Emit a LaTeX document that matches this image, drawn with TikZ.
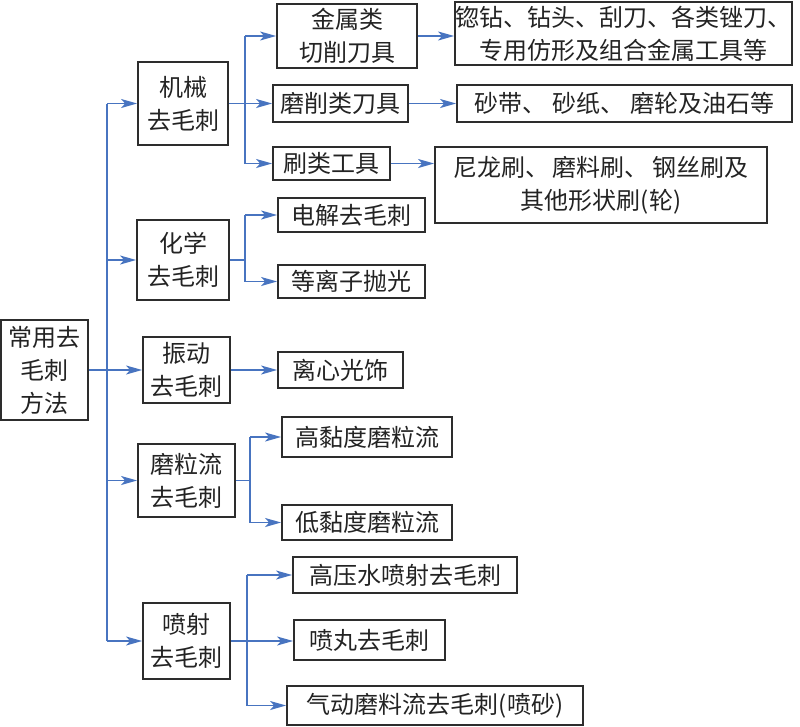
\documentclass[tikz,border=0pt]{standalone}
\usepackage{fontspec}
\setmainfont{Noto Sans CJK SC}
\usetikzlibrary{arrows.meta}
\definecolor{arrblue}{RGB}{72,116,192}
\definecolor{boxgray}{RGB}{45,45,45}
\definecolor{txt}{RGB}{35,35,35}
\tikzset{
  bx/.style={draw=boxgray, line width=1.8pt, inner sep=0pt, align=center, text=txt,
    font=\fontsize{24}{33}\selectfont},
  arr/.style={draw=arrblue, line width=1.5pt, -{Stealth[length=16pt,width=9pt,inset=4pt]}},
  ln/.style={draw=arrblue, line width=1.5pt}
}
\newcommand{\boxat}[6]{%
  \node[bx, minimum width={#4-#2}, minimum height={#5-#3}] (#1) at ({(#2+#4)/2},{(#3+#5)/2}) {#6};}
\begin{document}
\begin{tikzpicture}[x=1pt,y=-1pt]
\useasboundingbox (0,0) rectangle (800,726);
\boxat{root}{1}{320}{88}{420}{常用去\\毛刺\\方法}
\boxat{m1}{138}{62}{228}{145}{机械\\去毛刺}
\boxat{m2}{137}{220}{229}{300}{化学\\去毛刺}
\boxat{m3}{143}{337}{230}{403}{振动\\去毛刺}
\boxat{m4}{138}{444}{235}{517}{磨粒流\\去毛刺}
\boxat{m5}{143}{603}{230}{679}{喷射\\去毛刺}
\boxat{a1}{277}{4}{417}{68}{金属类\\切削刀具}
\boxat{a2}{273}{85}{408}{122}{磨削类刀具}
\boxat{a3}{273}{147}{390}{180}{刷类工具}
\boxat{l1}{455}{2}{792}{65}{锪钻、钻头、刮刀、各类锉刀、\\专用仿形及组合金属工具等}
\boxat{l2}{457}{85}{792}{122}{砂带、\hspace{6pt}砂纸、\hspace{6pt}磨轮及油石等}
\boxat{l3}{435}{147}{767}{223}{尼龙刷、\hspace{4pt}磨料刷、\hspace{4pt}钢丝刷及\\其他形状刷(轮)}
\boxat{b1}{278}{198}{425}{232}{电解去毛刺}
\boxat{b2}{278}{265}{425}{298}{等离子抛光}
\boxat{c1}{278}{352}{403}{388}{离心光饰}
\boxat{d1}{282}{417}{452}{457}{高黏度磨粒流}
\boxat{d2}{282}{505}{452}{540}{低黏度磨粒流}
\boxat{e1}{293}{557}{517}{593}{高压水喷射去毛刺}
\boxat{e2}{294}{620}{445}{660}{喷丸去毛刺}
\boxat{e3}{287}{686}{583}{725}{气动磨料流去毛刺(喷砂)}
% trunk
\coordinate (t) at (107,0);
\draw[ln] (t |- m1.west) -- (t |- m5.west);
\draw[arr] (root.east) -- (m3.west);
\draw[arr] (t |- m1.west) -- (m1.west);
\draw[arr] (t |- m2.west) -- (m2.west);
\draw[arr] (t |- m4.west) -- (m4.west);
\draw[arr] (t |- m5.west) -- (m5.west);
% m1 branch
\coordinate (v1) at (245,0);
\draw[ln] (v1 |- a1.west) -- (v1 |- a3.west);
\draw[arr] (m1.east) -- (a2.west |- m1.east);
\draw[arr] (v1 |- a1.west) -- (a1.west);
\draw[arr] (v1 |- a3.west) -- (a3.west);
\draw[arr] (a1.east) -- (l1.west |- a1.east);
\draw[arr] (a2.east) -- (l2.west |- a2.east);
\draw[arr] (a3.east) -- (l3.west |- a3.east);
% m2 branch
\coordinate (v2) at (245,0);
\draw[ln] (v2 |- b1.west) -- (v2 |- b2.west);
\draw[ln] (m2.east) -- (v2 |- m2.east);
\draw[arr] (v2 |- b1.west) -- (b1.west);
\draw[arr] (v2 |- b2.west) -- (b2.west);
% m3
\draw[arr] (m3.east) -- (c1.west);
% m4 branch
\coordinate (v4) at (250,0);
\draw[ln] (v4 |- d1.west) -- (v4 |- d2.west);
\draw[ln] (m4.east) -- (v4 |- m4.east);
\draw[arr] (v4 |- d1.west) -- (d1.west);
\draw[arr] (v4 |- d2.west) -- (d2.west);
% m5 branch
\coordinate (v5) at (247,0);
\draw[ln] (v5 |- e1.west) -- (v5 |- e3.west);
\draw[arr] (m5.east) -- (e2.west |- m5.east);
\draw[arr] (v5 |- e1.west) -- (e1.west);
\draw[arr] (v5 |- e3.west) -- (e3.west);
\end{tikzpicture}
\end{document}
